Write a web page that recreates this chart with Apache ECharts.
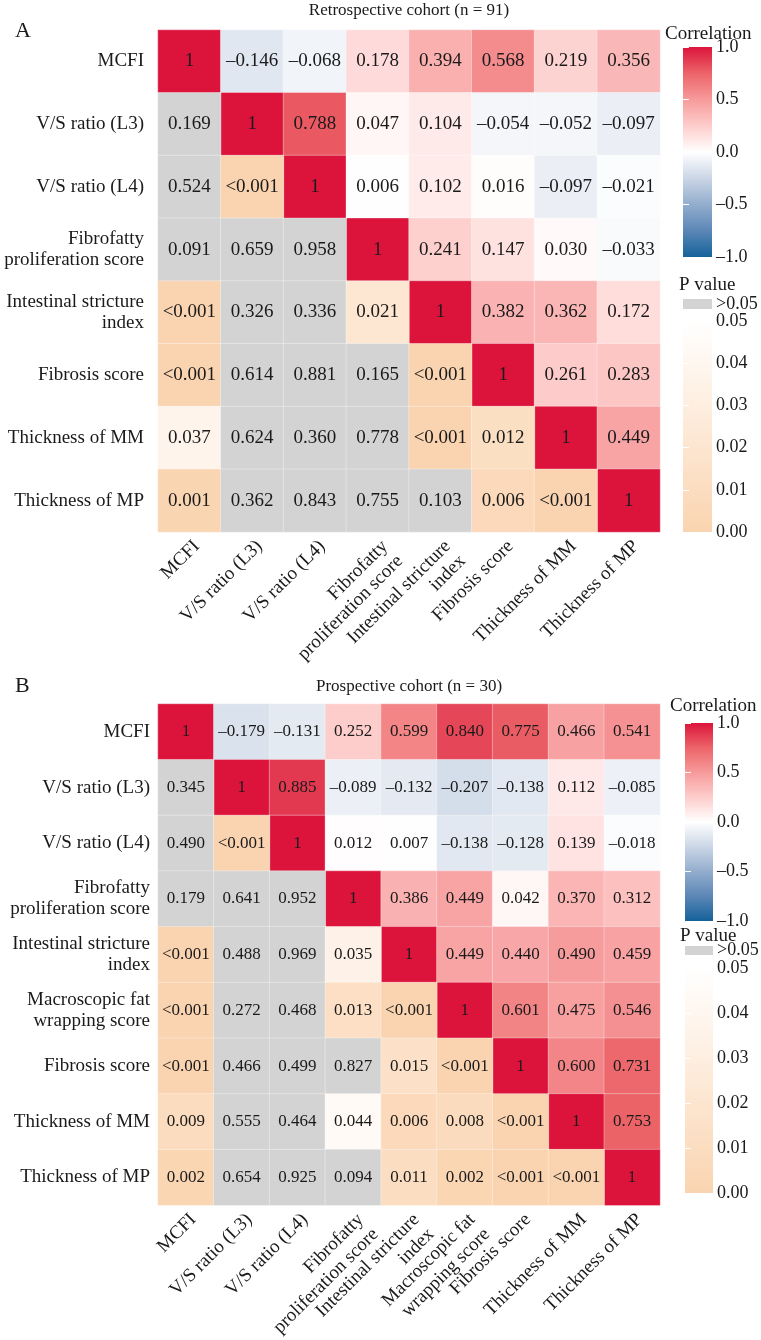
<!DOCTYPE html>
<html><head><meta charset="utf-8">
<script src="https://cdn.jsdelivr.net/npm/echarts@6/dist/echarts.min.js"></script>
<style>html,body{margin:0;padding:0;background:#fff}#c{width:761px;height:1340px}</style>
</head><body><div id="c"></div>
<script>
// ---------- DATA ----------
const titleA = 'Retrospective cohort (n = 91)';
const varsA = ['MCFI','V/S ratio (L3)','V/S ratio (L4)','Fibrofatty\nproliferation score','Intestinal stricture\nindex','Fibrosis score','Thickness of MM','Thickness of MP'];
// correlation, upper triangle: row i, columns i+1 .. n-1
const corrA = [
  [-0.146,-0.068,0.178,0.394,0.568,0.219,0.356],
  [0.788,0.047,0.104,-0.054,-0.052,-0.097],
  [0.006,0.102,0.016,-0.097,-0.021],
  [0.241,0.147,0.030,-0.033],
  [0.382,0.362,0.172],
  [0.261,0.283],
  [0.449],
  []
];
// P values, lower triangle: row i, columns 0 .. i-1
const pA = [
  [],
  ['0.169'],
  ['0.524','<0.001'],
  ['0.091','0.659','0.958'],
  ['<0.001','0.326','0.336','0.021'],
  ['<0.001','0.614','0.881','0.165','<0.001'],
  ['0.037','0.624','0.360','0.778','<0.001','0.012'],
  ['0.001','0.362','0.843','0.755','0.103','0.006','<0.001']
];

const titleB = 'Prospective cohort (n = 30)';
const varsB = ['MCFI','V/S ratio (L3)','V/S ratio (L4)','Fibrofatty\nproliferation score','Intestinal stricture\nindex','Macroscopic fat\nwrapping score','Fibrosis score','Thickness of MM','Thickness of MP'];
const corrB = [
  [-0.179,-0.131,0.252,0.599,0.840,0.775,0.466,0.541],
  [0.885,-0.089,-0.132,-0.207,-0.138,0.112,-0.085],
  [0.012,0.007,-0.138,-0.128,0.139,-0.018],
  [0.386,0.449,0.042,0.370,0.312],
  [0.449,0.440,0.490,0.459],
  [0.601,0.475,0.546],
  [0.600,0.731],
  [0.753],
  []
];
const pB = [
  [],
  ['0.345'],
  ['0.490','<0.001'],
  ['0.179','0.641','0.952'],
  ['<0.001','0.488','0.969','0.035'],
  ['<0.001','0.272','0.468','0.013','<0.001'],
  ['<0.001','0.466','0.499','0.827','0.015','<0.001'],
  ['0.009','0.555','0.464','0.044','0.006','0.008','<0.001'],
  ['0.002','0.654','0.925','0.094','0.011','0.002','<0.001','<0.001']
];

const corrTicks = [-1, -0.5, 0, 0.5, 1];
const pTicks = [0, 0.01, 0.02, 0.03, 0.04, 0.05];

// ---------- STYLE ----------
const FONT = "'Liberation Serif','Times New Roman',serif";
const TXT = '#1a1a1a';
const corrColors = ['#15629A','#5B87B6','#93ADCD','#CBD6E6','#FFFFFF','#FDCDCB','#F79A9B','#EC6468','#DC143C']; // -1 .. 1
const pColors = ['#FAD4B0','#FDEAD8','#FFFFFF']; // 0 .. 0.05
const grayNS = '#D3D3D3';

const panels = [
  {vars: varsA, corr: corrA, p: pA, title: titleA, letter: 'A',
   grid: {left: 158, top: 30, width: 502, height: 502}, cellFont: 19, yMargin: 14, xMargin: 4,
   titleY: 11, letterY: 31,
   leg: {x: 683, w: 29, ctitleX: 665, ctitleY: 34, cbTop: 47, cbBot: 257,
         ptitleX: 679, ptitleY: 285, swTop: 299, swBot: 309, pTop: 321, pBot: 532}},
  {vars: varsB, corr: corrB, p: pB, title: titleB, letter: 'B',
   grid: {left: 158, top: 704, width: 502, height: 504}, cellFont: 17, yMargin: 8, xMargin: 4,
   titleY: 687, letterY: 686,
   leg: {x: 685, w: 28, ctitleX: 670, ctitleY: 706, cbTop: 723, cbBot: 921,
         ptitleX: 680, ptitleY: 936, swTop: 946, swBot: 955, pTop: 968, pBot: 1193}}
];

const fmtCorr = v => v === 1 ? '1' : (v < 0 ? '\u2013' : '') + Math.abs(v).toFixed(3);

const grid = [], xAxis = [], yAxis = [], series = [], visualMap = [], graphic = [];

panels.forEach((P, k) => {
  const n = P.vars.length;
  const cData = [], pData = [];
  for (let i = 0; i < n; i++) {
    cData.push([i, i, 1]);
    P.corr[i].forEach((v, m) => cData.push([i + 1 + m, i, v]));
    P.p[i].forEach((s, j) => pData.push({name: s, value: [j, i, s.charAt(0) === '<' ? 0 : parseFloat(s)]}));
  }
  // main grid
  const gi = grid.length;
  grid.push(Object.assign({containLabel: false}, P.grid));
  xAxis.push({gridIndex: gi, type: 'category', data: P.vars, axisLine: {show: false}, axisTick: {show: false},
    splitLine: {show: false},
    axisLabel: {interval: 0, rotate: 45, margin: P.xMargin, fontSize: 19, fontFamily: FONT, color: TXT,
      lineHeight: 21, verticalAlign: 'top', align: 'right'}});
  yAxis.push({gridIndex: gi, type: 'category', data: P.vars, inverse: true, axisLine: {show: false}, axisTick: {show: false},
    splitLine: {show: false},
    axisLabel: {interval: 0, margin: P.yMargin, fontSize: 19, fontFamily: FONT, color: TXT, lineHeight: 21}});
  const axI = xAxis.length - 1;
  const sc = series.length;
  const cellStyle = {borderColor: 'rgba(255,255,255,0.55)', borderWidth: 0.6};
  series.push({type: 'heatmap', xAxisIndex: axI, yAxisIndex: axI, data: cData, itemStyle: cellStyle,
    emphasis: {disabled: true},
    label: {show: true, fontSize: P.cellFont, fontFamily: FONT, color: TXT, formatter: p => fmtCorr(p.value[2])}});
  series.push({type: 'heatmap', xAxisIndex: axI, yAxisIndex: axI, data: pData, itemStyle: cellStyle,
    emphasis: {disabled: true},
    label: {show: true, fontSize: P.cellFont, fontFamily: FONT, color: TXT, formatter: p => p.name}});
  visualMap.push({type: 'continuous', show: false, seriesIndex: sc, dimension: 2, min: -1, max: 1,
    inRange: {color: corrColors}});
  visualMap.push({type: 'continuous', show: false, seriesIndex: sc + 1, dimension: 2, min: 0, max: 0.05,
    range: [0, 0.0499], inRange: {color: pColors}, outOfRange: {color: grayNS}});

  // ---- legends ----
  const L = P.leg;
  const corrGrad = new echarts.graphic.LinearGradient(0, 0, 0, 1,
    corrColors.slice().reverse().map((c, i, a) => ({offset: i / (a.length - 1), color: c})));
  const pGrad = new echarts.graphic.LinearGradient(0, 0, 0, 1,
    pColors.slice().reverse().map((c, i, a) => ({offset: i / (a.length - 1), color: c})));

  const legendAxis = (gIdx, min, max, interval, fmt) => {
    xAxis.push({gridIndex: gIdx, type: 'value', show: false, min: 0, max: 1});
    yAxis.push({gridIndex: gIdx, type: 'value', min, max, interval, position: 'right',
      axisLine: {show: false}, splitLine: {show: false},
      axisTick: {show: true, inside: true, length: 6, lineStyle: {color: '#fff', width: 1}},
      axisLabel: {margin: 4, fontSize: 18, fontFamily: FONT, color: TXT, formatter: fmt}});
    xAxis.push({gridIndex: gIdx, type: 'value', show: false, min: 0, max: 1});
    yAxis.push({gridIndex: gIdx, type: 'value', min, max, interval, position: 'left',
      axisLine: {show: false}, splitLine: {show: false},
      axisTick: {show: true, inside: true, length: 6, lineStyle: {color: '#fff', width: 1}},
      axisLabel: {show: false}});
  };
  const cg = grid.length;
  grid.push({left: L.x, top: L.cbTop, width: L.w, height: L.cbBot - L.cbTop, show: true, borderWidth: 0,
    backgroundColor: corrGrad});
  legendAxis(cg, corrTicks[0], corrTicks[corrTicks.length - 1], corrTicks[1] - corrTicks[0],
    v => (v < 0 ? '\u2013' : '') + Math.abs(v).toFixed(1));
  const pg = grid.length;
  grid.push({left: L.x, top: L.pTop, width: L.w, height: L.pBot - L.pTop, show: true, borderWidth: 0,
    backgroundColor: pGrad});
  legendAxis(pg, pTicks[0], pTicks[pTicks.length - 1], pTicks[1] - pTicks[0], v => v.toFixed(2));

  const txt = (x, y, text, size, align) => ({type: 'text', x, y, silent: true,
    style: {text, fontSize: size, fontFamily: FONT, fill: TXT, align: align || 'left', verticalAlign: 'middle',
      textAlign: align || 'left', textVerticalAlign: 'middle'}});
  graphic.push(txt(P.grid.left + P.grid.width / 2, P.titleY, P.title, 17, 'center'));
  graphic.push(txt(15, P.letterY, P.letter, 22, 'left'));
  graphic.push(txt(L.ctitleX, L.ctitleY, 'Correlation', 19, 'left'));
  graphic.push(txt(L.ptitleX, L.ptitleY, 'P value', 19, 'left'));
  graphic.push({type: 'rect', silent: true, shape: {x: L.x, y: L.swTop, width: L.w, height: L.swBot - L.swTop},
    style: {fill: grayNS}});
  graphic.push(txt(L.x + L.w + 4, (L.swTop + L.swBot) / 2, '>0.05', 18, 'left'));
});

const chart = echarts.init(document.getElementById('c'), null, {renderer: 'canvas'});
chart.setOption({
  backgroundColor: '#fff',
  animation: false,
  textStyle: {fontFamily: FONT},
  grid, xAxis, yAxis, series, visualMap, graphic
});
</script>
</body></html>
